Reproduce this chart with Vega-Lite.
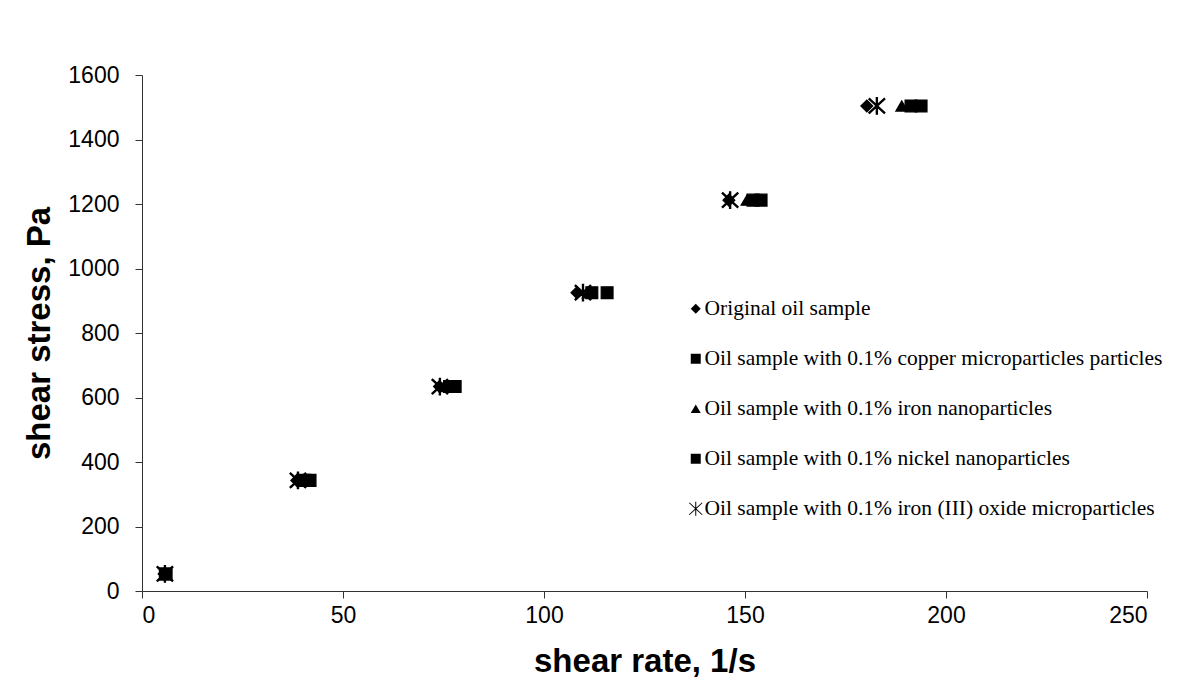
{
  "$schema": "https://vega.github.io/schema/vega-lite/v6.json",
  "autosize": {"type": "none"},
  "width": 1005,
  "height": 516,
  "padding": {"left": 142, "top": 75, "right": 47, "bottom": 100},
  "background": "white",
  "config": {
    "view": {"stroke": null},
    "axis": {
      "domainColor": "#333333",
      "tickColor": "#333333",
      "grid": false,
      "labelFont": "Liberation Sans",
      "labelColor": "black",
      "titleFont": "Liberation Sans",
      "titleColor": "black",
      "titleFontWeight": "bold",
      "format": "d"
    }
  },
  "data": {
    "values": [
      {"series": "Original oil sample", "rate": 5.5, "stress": 53},
      {"series": "Original oil sample", "rate": 38.5, "stress": 343},
      {"series": "Original oil sample", "rate": 74.0, "stress": 634},
      {"series": "Original oil sample", "rate": 108.2, "stress": 925},
      {"series": "Original oil sample", "rate": 146.0, "stress": 1212},
      {"series": "Original oil sample", "rate": 180.3, "stress": 1504},

      {"series": "Oil sample with 0.1% copper microparticles particles", "rate": 6.0, "stress": 53},
      {"series": "Oil sample with 0.1% copper microparticles particles", "rate": 41.8, "stress": 343},
      {"series": "Oil sample with 0.1% copper microparticles particles", "rate": 77.9, "stress": 634},
      {"series": "Oil sample with 0.1% copper microparticles particles", "rate": 115.7, "stress": 925},
      {"series": "Oil sample with 0.1% copper microparticles particles", "rate": 154.0, "stress": 1212},
      {"series": "Oil sample with 0.1% copper microparticles particles", "rate": 193.8, "stress": 1504},

      {"series": "Oil sample with 0.1% iron nanoparticles", "rate": 5.8, "stress": 53},
      {"series": "Oil sample with 0.1% iron nanoparticles", "rate": 40.0, "stress": 343},
      {"series": "Oil sample with 0.1% iron nanoparticles", "rate": 75.5, "stress": 634},
      {"series": "Oil sample with 0.1% iron nanoparticles", "rate": 111.0, "stress": 925},
      {"series": "Oil sample with 0.1% iron nanoparticles", "rate": 150.5, "stress": 1212},
      {"series": "Oil sample with 0.1% iron nanoparticles", "rate": 189.0, "stress": 1504},

      {"series": "Oil sample with 0.1% nickel nanoparticles", "rate": 5.8, "stress": 53},
      {"series": "Oil sample with 0.1% nickel nanoparticles", "rate": 40.5, "stress": 343},
      {"series": "Oil sample with 0.1% nickel nanoparticles", "rate": 76.5, "stress": 634},
      {"series": "Oil sample with 0.1% nickel nanoparticles", "rate": 111.9, "stress": 925},
      {"series": "Oil sample with 0.1% nickel nanoparticles", "rate": 152.0, "stress": 1212},
      {"series": "Oil sample with 0.1% nickel nanoparticles", "rate": 191.3, "stress": 1504},

      {"series": "Oil sample with 0.1% iron (III) oxide microparticles", "rate": 5.7, "stress": 53},
      {"series": "Oil sample with 0.1% iron (III) oxide microparticles", "rate": 38.8, "stress": 343},
      {"series": "Oil sample with 0.1% iron (III) oxide microparticles", "rate": 74.1, "stress": 634},
      {"series": "Oil sample with 0.1% iron (III) oxide microparticles", "rate": 109.7, "stress": 925},
      {"series": "Oil sample with 0.1% iron (III) oxide microparticles", "rate": 146.3, "stress": 1212},
      {"series": "Oil sample with 0.1% iron (III) oxide microparticles", "rate": 182.8, "stress": 1504}
    ]
  },
  "mark": {
    "type": "point",
    "filled": false,
    "fill": "black",
    "stroke": "black",
    "strokeWidth": 1.2,
    "opacity": 1,
    "fillOpacity": 1,
    "size": 140
  },
  "encoding": {
    "x": {
      "field": "rate",
      "type": "quantitative",
      "scale": {"domain": [0, 250], "nice": false},
      "axis": {
        "title": "shear rate, 1/s",
        "values": [0, 50, 100, 150, 200, 250],
        "labelFontSize": 23,
        "tickSize": 7,
        "labelPadding": 6,
        "titleFontSize": 33,
        "titlePadding": 18
      }
    },
    "y": {
      "field": "stress",
      "type": "quantitative",
      "scale": {"domain": [0, 1600], "nice": false},
      "axis": {
        "title": "shear stress, Pa",
        "values": [0, 200, 400, 600, 800, 1000, 1200, 1400, 1600],
        "labelFontSize": 23,
        "tickSize": 7,
        "labelPadding": 16,
        "titleFontSize": 33,
        "titlePadding": 11
      }
    },
    "shape": {
      "field": "series",
      "type": "nominal",
      "scale": {
        "domain": [
          "Original oil sample",
          "Oil sample with 0.1% copper microparticles particles",
          "Oil sample with 0.1% iron nanoparticles",
          "Oil sample with 0.1% nickel nanoparticles",
          "Oil sample with 0.1% iron (III) oxide microparticles"
        ],
        "range": [
          "diamond",
          "square",
          "triangle-up",
          "square",
          "M-0.1,-1.4L0.1,-1.4L0.1,1.4L-0.1,1.4Z M-1.368,-1.126L-1.232,-1.274L1.368,1.126L1.232,1.274Z M-1.232,1.274L-1.368,1.126L1.232,-1.274L1.368,-1.126Z"
        ]
      },
      "legend": {
        "title": null,
        "orient": "none",
        "legendX": 543,
        "legendY": 223,
        "padding": 0,
        "rowPadding": 27,
        "symbolSize": 100,
        "symbolFillColor": "black",
        "symbolStrokeColor": "black",
        "symbolStrokeWidth": 1,
        "symbolOpacity": 1,
        "labelFont": "Liberation Serif",
        "labelFontSize": 21.5,
        "labelColor": "black",
        "labelLimit": 0,
        "labelOffset": -2
      }
    }
  }
}
